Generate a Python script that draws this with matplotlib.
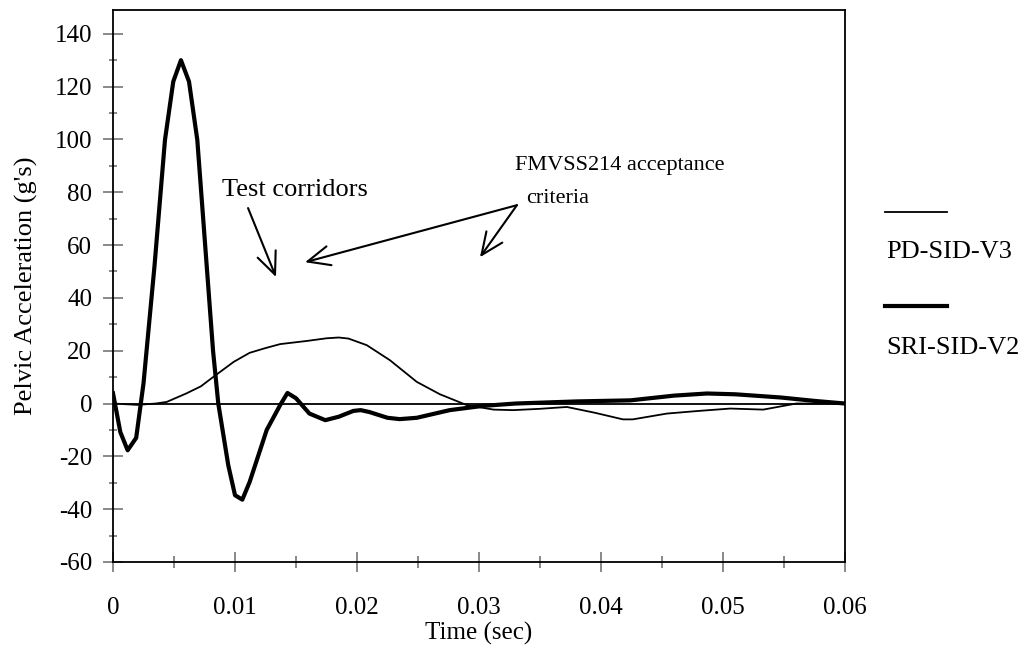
import matplotlib
matplotlib.use("Agg")
import matplotlib.pyplot as plt
from matplotlib.lines import Line2D
from matplotlib.ticker import MultipleLocator

plt.rcParams['font.family'] = ['Liberation Serif', 'DejaVu Serif']
plt.rcParams['axes.unicode_minus'] = False

# PD-SID-V3 (thin line)
pd_t = [0, 0.002, 0.0035, 0.0044, 0.006, 0.0072, 0.0082, 0.0099, 0.0112, 0.0125,
        0.0137, 0.0159, 0.0175, 0.0185, 0.0193, 0.0208, 0.0227, 0.0249, 0.0268,
        0.029, 0.0312, 0.0328, 0.035, 0.0372, 0.0395, 0.0418, 0.0426, 0.0454,
        0.048, 0.0506, 0.0533, 0.056, 0.06]
pd_v = [0, -0.5, 0, 0.6, 3.8, 6.5, 10, 15.8, 19.2, 21,
        22.5, 23.7, 24.7, 25, 24.6, 22.1, 16.4, 8.2, 3.5,
        -0.6, -2.3, -2.5, -2, -1.3, -3.5, -6, -6, -3.8,
        -2.8, -1.9, -2.3, 0, 0]

# SRI-SID-V2 (thick line)
sri_t = [0, 0.0006, 0.0012, 0.0019, 0.0025, 0.0034, 0.00426, 0.00494, 0.00557,
         0.00623, 0.00691, 0.0082, 0.00863, 0.00945, 0.0100, 0.0106, 0.0112,
         0.0126, 0.0137, 0.0143, 0.0150, 0.0161, 0.0174, 0.0185, 0.0197, 0.0203,
         0.0210, 0.0225, 0.0235, 0.0249, 0.0276, 0.0303, 0.033, 0.038, 0.0424,
         0.046, 0.0487, 0.051, 0.0547, 0.0575, 0.06]
sri_v = [3.9, -10.8, -17.7, -13, 7.6, 52, 99.8, 121.9, 130,
         121.9, 99.8, 20, 0, -23.4, -34.7, -36.4, -29.7,
         -10, -0.6, 4, 2, -3.8, -6.3, -5.0, -2.8, -2.5,
         -3.2, -5.4, -5.9, -5.4, -2.5, -0.9, 0, 0.8, 1.2,
         3, 3.8, 3.5, 2.3, 1, 0]

fig = plt.figure(figsize=(10.24, 6.5), dpi=100)
ax = fig.add_axes([113/1024, 1 - 562/650, 732/1024, 552/650])

ax.axhline(0, color='black', lw=1.3, zorder=1)
ax.plot(pd_t, pd_v, color='black', lw=1.3, zorder=2)
ax.plot(sri_t, sri_v, color='black', lw=3.0, zorder=3)

ax.set_xlim(0, 0.06)
ax.set_ylim(-60, 149)
ax.xaxis.set_minor_locator(MultipleLocator(0.005))
ax.yaxis.set_minor_locator(MultipleLocator(10))
ax.set_xticks([0, 0.01, 0.02, 0.03, 0.04, 0.05, 0.06])
ax.set_xticklabels(['0', '0.01', '0.02', '0.03', '0.04', '0.05', '0.06'])
ax.set_yticks(range(-60, 141, 20))

for s in ax.spines.values():
    s.set_linewidth(1.3)
    s.set_color('black')

ax.tick_params(axis='y', which='major', direction='inout', length=14, width=1.3,
               color='#808080', labelsize=18, pad=8)
ax.tick_params(axis='y', which='minor', direction='inout', length=6, width=1.3,
               color='#808080')
ax.tick_params(axis='x', which='major', direction='inout', length=14, width=1.3,
               color='#808080', labelsize=18, pad=18)
ax.tick_params(axis='x', which='minor', direction='inout', length=9, width=1.3,
               color='#808080')

ax.set_xlabel('Time (sec)', fontsize=18, labelpad=2)
ax.set_ylabel("Pelvic Acceleration (g's)", fontsize=19, labelpad=12)

# annotations
ax.text(0.00893, 80.8, 'Test corridors', fontsize=19, va='center', ha='left')
ax.text(0.03295, 90.3, 'FMVSS214 acceptance', fontsize=16, va='center', ha='left')
ax.text(0.0339, 77.8, 'criteria', fontsize=16, va='center', ha='left')

aprops = dict(arrowstyle='->,head_length=1.6,head_width=0.7', color='black', lw=1.5,
              shrinkA=0, shrinkB=0)
ax.annotate('', xy=(0.01336, 47.9), xytext=(0.01107, 74), arrowprops=aprops)
ax.annotate('', xy=(0.01574, 53.5), xytext=(0.03311, 75.1), arrowprops=aprops)
ax.annotate('', xy=(0.03008, 55.4), xytext=(0.03311, 75.1), arrowprops=aprops)

# legend, Excel style: sample line above the name
fig.add_artist(Line2D([885/1024, 947/1024], [1 - 211.5/650, 1 - 211.5/650],
                      color='black', lw=1.3))
fig.text(886/1024, 1 - 252/650, 'PD-SID-V3', fontsize=19, va='center', ha='left')
fig.add_artist(Line2D([885/1024, 947/1024], [1 - 306/650, 1 - 306/650],
                      color='black', lw=3.0))
fig.text(886/1024, 1 - 348/650, 'SRI-SID-V2', fontsize=19, va='center', ha='left')

fig.savefig('out.png', dpi=100)
